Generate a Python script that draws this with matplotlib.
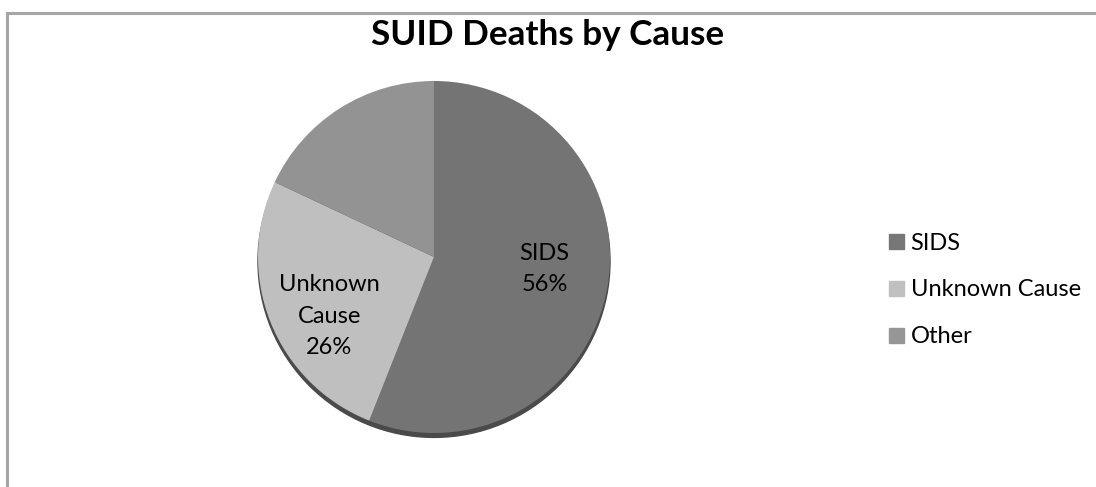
import numpy as np
import matplotlib.pyplot as plt
from matplotlib.patches import Circle

plt.rcParams['font.family'] = ['Lato', 'DejaVu Sans']

causes = ['SIDS', 'Unknown Cause', 'Other']
shares = [56, 26, 18]
slice_labels = ['SIDS\n56%', 'Unknown\nCause\n26%', '']
label_dy = [0.05, -0.10, 0.0]   # nudge labels like excel does
colors = ['#747474', '#bfbfbf', '#939393']

W, H = 1096, 487
fig = plt.figure(figsize=(W / 100, H / 100), dpi=100)

# outer chart frame (only top and left edges are visible in the crop)
fig.add_artist(plt.Line2D([7 / W, 7 / W], [0, 1 - 13 / H], color='#a6a6a6', lw=2.2, transform=fig.transFigure))
fig.add_artist(plt.Line2D([7 / W, 1], [1 - 13 / H, 1 - 13 / H], color='#a6a6a6', lw=2.2, transform=fig.transFigure))

fig.text(548 / W, 1 - 35 / H, 'SUID Deaths by Cause', ha='center', va='center',
         fontsize=25.3, fontweight='bold', color='black')

cx, cy, r = 434, 257, 176
ax = fig.add_axes([(cx - r) / W, (H - cy - r) / H, 2 * r / W, 2 * r / H])

# thin dark rim under the pie
ax.add_patch(Circle((0.0, -0.025), 1.0, color='#4a4a4a', zorder=0, clip_on=False))

wedges, _ = ax.pie(shares, colors=colors, startangle=90, counterclock=False,
                   radius=1.0, wedgeprops=dict(linewidth=0), frame=True)
ax.set_xlim(-1.0, 1.0)
ax.set_ylim(-1.0, 1.0)
ax.set_aspect('equal')
ax.axis('off')

for w, lab, dy in zip(wedges, slice_labels, label_dy):
    if not lab:
        continue
    ang = np.deg2rad((w.theta1 + w.theta2) / 2)
    ax.text(0.64 * np.cos(ang), 0.64 * np.sin(ang) + dy, lab, ha='center', va='center',
            fontsize=17, color='black', linespacing=1.6)

handles = [plt.Rectangle((0, 0), 1, 1, color=c) for c in ['#777777', '#c0c0c0', '#969696']]
fig.legend(handles, causes, loc='center left', bbox_to_anchor=(880 / W, 1 - 290 / H),
           frameon=False, fontsize=17, handlelength=0.6, handleheight=0.6,
           handletextpad=0.3, labelspacing=1.1, borderaxespad=0)

fig.savefig('out.png', dpi=100, facecolor='white')
